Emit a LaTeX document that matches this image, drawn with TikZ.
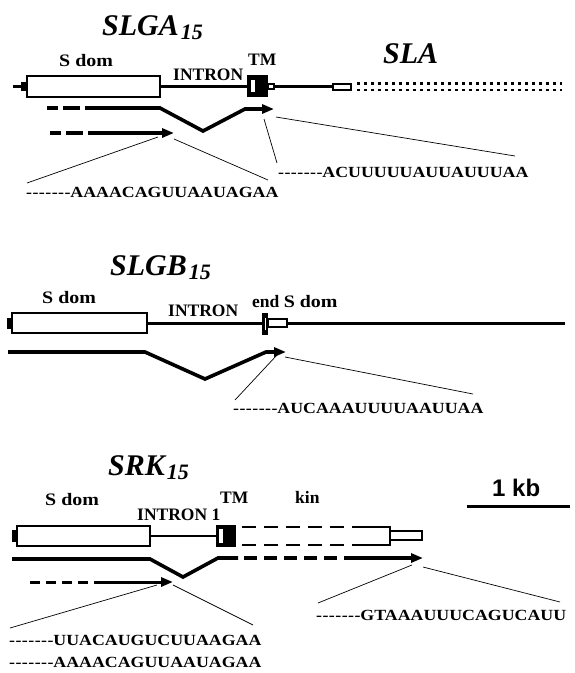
\documentclass[tikz,border=0pt]{standalone}
\usepackage{fontspec}
\setmainfont{Liberation Serif}
\newfontfamily\kbfont{Liberation Sans}
\usetikzlibrary{arrows.meta}
\tikzset{
  gene/.style={line width=2.6pt},
  exon/.style={draw, line width=2.6pt, fill=white},
  blk/.style={fill=black},
  tx/.style={line width=3.6pt, line join=miter},
  txseg/.style={line width=3.6pt},
  genedash/.style={line width=2.6pt, dash pattern=on 14pt off 8pt},
  dots/.style={line width=2.8pt, dash pattern=on 2.8pt off 4.2pt},
  tip/.style={-{Triangle[length=12pt,width=9pt]}},
  thin/.style={line width=0.7pt},
  seq/.style={font=\bfseries\fontsize{15.5}{18}\selectfont, anchor=base west, inner sep=0pt},
  lab/.style={font=\bfseries\fontsize{17.5}{20}\selectfont, anchor=base west, inner sep=0pt},
  ttl/.style={font=\bfseries\itshape\fontsize{30}{34}\selectfont, anchor=base west, inner sep=0pt},
}
% seven separate hyphens (kerns keep them from joining into dashes)
\newcommand{\lead}{-\kern0.4pt-\kern0.4pt-\kern0.4pt-\kern0.4pt-\kern0.4pt-\kern0.4pt-}
\newcommand{\sqtxt}[1]{\scalebox{1.15}[1]{\lead#1}}
\newcommand{\subnum}[1]{\raisebox{-4pt}{\fontsize{22}{24}\selectfont\kern2pt #1}}
\newcommand{\sdom}{\scalebox{1.14}[1]{S dom}}
\begin{document}
\begin{tikzpicture}[x=1pt,y=-1pt]
\useasboundingbox (0,0) rectangle (574,673);

% ---------------- SLGA15 / SLA ----------------
\node[ttl] (tA) at (102,35) {SLGA\subnum{15}};
\node[ttl] (tSLA) at (383,63) {SLA};
\node[lab] (aSdom) at (59,66) {\sdom};
\node[lab] (aTM) at (248,65) {TM};
\node[lab] (aIntron) at (173,80) {INTRON};

\draw[gene] (13,86.5) -- (27,86.5);
\fill[blk] (21,82) rectangle (27,91);
\draw[exon] (27,76) rectangle (160,97);
\draw[gene] (160,86.5) -- (249,86.5);
\fill[blk] (247,75) rectangle (268,97);
\fill[white] (251,80) rectangle (255,92);
\draw[line width=1.6pt, fill=white] (268,84) rectangle (274,89);
\draw[gene] (274,86.5) -- (333,86.5);
\draw[line width=2pt, fill=white] (333,84) rectangle (351,90);
\draw[dots] (357,83.5) -- (562,83.5);
\draw[dots] (357,90) -- (562,90);

% transcripts
\draw[txseg] (47,108) -- (58,108) (63,108) -- (80,108);
\draw[tx, tip] (85,108) -- (160,108) -- (203,131) -- (245,109) -- (274,109);
\draw[txseg] (50,133) -- (61,133) (66,133) -- (83,133);
\draw[tx, tip] (88,133) -- (174,133);

% sequences
\node[seq] (aSeq1) at (278,177) {\sqtxt{ACUUUUUAUUAUUUAA}};
\node[seq] (aSeq2) at (26,197) {\sqtxt{AAAACAGUUAAUAGAA}};
\coordinate (aS1a) at (277,163);
\coordinate (aS1b) at (515,156);
\coordinate (aS2a) at (27,183);
\coordinate (aS2b) at (268,180);
\coordinate (aT1a) at (264,119);
\coordinate (aT1b) at (276,117);
\coordinate (aT2a) at (158,137);
\coordinate (aT2b) at (174,139);
\draw[thin] (aT1a) -- (aS1a);
\draw[thin] (aT1b) -- (aS1b);
\draw[thin] (aT2a) -- (aS2a);
\draw[thin] (aT2b) -- (aS2b);

% ---------------- SLGB15 ----------------
\node[ttl] (tB) at (110,275) {SLGB\subnum{15}};
\node[lab] (bSdom) at (42,303) {\sdom};
\node[lab] (bIntron) at (168,316) {INTRON};
\node[lab] (bEnd) at (252,307) {end \sdom};

\fill[blk] (7,318) rectangle (12,329);
\draw[exon] (12,313) rectangle (147,333);
\draw[gene, line width=3pt] (147,323) -- (565,323);
\fill[blk] (262,313) rectangle (268,335);
\fill[white] (264.5,318) rectangle (265.5,330);
\draw[line width=1.8pt, fill=white] (268,319) rectangle (287,327);

\draw[tx, tip] (8,352) -- (145,352) -- (205,379) -- (266,352) -- (286,352);
\node[seq] (bSeq) at (233,413) {\sqtxt{AUCAAAUUUUAAUUAA}};
\coordinate (bT1a) at (277,355);
\coordinate (bT1b) at (285,357);
\coordinate (bS1a) at (235,400);
\coordinate (bS1b) at (473,394);
\draw[thin] (bT1a) -- (bS1a);
\draw[thin] (bT1b) -- (bS1b);

% ---------------- SRK15 ----------------
\node[ttl] (tC) at (108,475) {SRK\subnum{15}};
\node[lab] (cSdom) at (45,505) {\sdom};
\node[lab] (cIntron) at (137,520) {INTRON 1};
\node[lab] (cTM) at (220,503) {TM};
\node[lab] (cKin) at (295,503) {kin};
\node[font=\kbfont\bfseries\fontsize{24}{26}\selectfont, anchor=base west, inner sep=0pt] (kb) at (492,496) {1 kb};
\coordinate (barL) at (467,506);
\coordinate (barR) at (570,506);
\draw[line width=3pt] (barL) -- (barR);

\fill[blk] (12,530) rectangle (17,542);
\draw[exon] (17,526) rectangle (150,546);
\draw[gene] (150,536) -- (217,536);
\fill[blk] (216,525) rectangle (236,547);
\fill[white] (219,529) rectangle (223,543);
\draw[genedash] (242,527) -- (344,527);
\draw[genedash] (242,545) -- (344,545);
\draw[gene, line join=miter] (352,527) -- (390,527) -- (390,545) -- (352,545);
\draw[line width=2pt, fill=white] (390,531) rectangle (422,539.5);

\draw[tx] (12,559) -- (150,559) -- (183,577) -- (218,558) -- (238,558);
\draw[txseg, dash pattern=on 13pt off 7pt] (244,558) -- (337,558);
\draw[tx, tip] (344,558) -- (423,558);
\draw[line width=3pt, dash pattern=on 10pt off 6pt] (30,582) -- (100,582);
\draw[line width=3pt, tip] (100,582) -- (173,582);

\node[seq] (cSeq1) at (9,645) {\sqtxt{UUACAUGUCUUAAGAA}};
\node[seq] (cSeq2) at (9,667) {\sqtxt{AAAACAGUUAAUAGAA}};
\node[seq] (cSeq3) at (316,620) {\sqtxt{GTAAAUUUCAGUCAUU}};
\coordinate (cT2a) at (157,585);
\coordinate (cT2b) at (173,585);
\coordinate (cS2a) at (10,628);
\coordinate (cS2b) at (253,625);
\coordinate (cT1a) at (412,565);
\coordinate (cT1b) at (423,567);
\coordinate (cS1a) at (318,603);
\coordinate (cS1b) at (560,602);
\draw[thin] (cT2a) -- (cS2a);
\draw[thin] (cT2b) -- (cS2b);
\draw[thin] (cT1a) -- (cS1a);
\draw[thin] (cT1b) -- (cS1b);
\end{tikzpicture}
\end{document}
